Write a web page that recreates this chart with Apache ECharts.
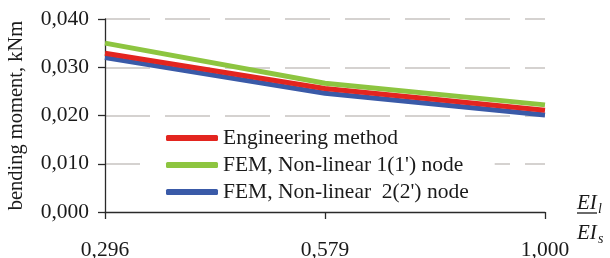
<!DOCTYPE html>
<html>
<head>
<meta charset="utf-8">
<script src="https://cdn.jsdelivr.net/npm/echarts@6/dist/echarts.min.js"></script>
<style>
html,body{margin:0;padding:0;background:#fff;}
#chart{width:610px;height:258px;}
</style>
</head>
<body>
<div id="chart"></div>
<script>
const categories = ['0,296', '0,579', '1,000'];
const engineering = [0.0329, 0.0256, 0.0211];
const femNode1 = [0.0350, 0.0267, 0.0222];
const femNode2 = [0.0320, 0.0246, 0.0201];
const seriesNames = ['Engineering method', "FEM, Non-linear 1(1') node", "FEM, Non-linear  2(2') node"];
const yTicks = { min: 0, max: 0.04, interval: 0.01 };

const FONT = '"Liberation Serif", "Times New Roman", serif';
const TXT = '#1a1a1a';

const chart = echarts.init(document.getElementById('chart'), null, { renderer: 'canvas' });
chart.setOption({
  animation: false,
  backgroundColor: '#ffffff',
  grid: { left: 105, right: 65, top: 19, bottom: 46, containLabel: false, outerBoundsMode: 'none' },
  xAxis: {
    type: 'category',
    data: categories,
    boundaryGap: false,
    axisLine: { lineStyle: { color: '#2a2a2a', width: 1.3 } },
    axisTick: { show: true, length: 7, alignWithLabel: true, lineStyle: { color: '#2a2a2a', width: 1.3 } },
    axisLabel: { color: TXT, fontFamily: FONT, fontSize: 21.5, margin: 27 },
    splitLine: { show: false }
  },
  yAxis: {
    type: 'value',
    min: yTicks.min, max: yTicks.max, interval: yTicks.interval,
    name: 'bending moment, kNm',
    nameLocation: 'middle',
    nameRotate: 90,
    nameGap: 78,
    nameMoveOverlap: false,
    nameTextStyle: { color: TXT, fontFamily: FONT, fontSize: 20.5 },
    axisLine: { show: true, lineStyle: { color: '#2a2a2a', width: 1.3 } },
    axisTick: { show: true, length: 7, lineStyle: { color: '#2a2a2a', width: 1.3 } },
    axisLabel: {
      color: TXT, fontFamily: FONT, fontSize: 21.5, margin: 16,
      formatter: v => v.toFixed(3).replace('.', ',')
    },
    splitLine: { show: true, showMinLine: false, lineStyle: { color: '#c8c4c1', width: 1.5, type: [45, 15] } }
  },
  legend: {
    orient: 'vertical',
    left: 140, top: 121,
    padding: [6, 26, 6, 26],
    backgroundColor: '#ffffff',
    itemWidth: 52, itemHeight: 6, itemGap: 5,
    icon: 'roundRect',
    textStyle: { color: TXT, fontFamily: FONT, fontSize: 21.5, lineHeight: 20 },
    data: seriesNames
  },
  series: [
    { name: seriesNames[2], type: 'line', data: femNode2, color: '#3a5aa8', symbol: 'none', z: 2,
      lineStyle: { width: 5, color: '#3a5aa8' } },
    { name: seriesNames[0], type: 'line', data: engineering, color: '#e3251f', symbol: 'none', z: 3,
      lineStyle: { width: 5, color: '#e3251f' } },
    { name: seriesNames[1], type: 'line', data: femNode1, color: '#8dc540', symbol: 'none', z: 4,
      lineStyle: { width: 5, color: '#8dc540' } }
  ],
  graphic: [
    { type: 'text', left: 577, top: 193, style: { text: 'EI', font: 'italic 21px ' + FONT, fill: TXT } },
    { type: 'text', left: 598, top: 202, style: { text: 'l', font: 'italic 14px ' + FONT, fill: TXT } },
    { type: 'line', shape: { x1: 577, y1: 213, x2: 597, y2: 213 }, style: { stroke: TXT, lineWidth: 1.3 } },
    { type: 'text', left: 577, top: 223, style: { text: 'EI', font: 'italic 21px ' + FONT, fill: TXT } },
    { type: 'text', left: 598, top: 232, style: { text: 's', font: 'italic 14px ' + FONT, fill: TXT } }
  ]
});
</script>
</body>
</html>
